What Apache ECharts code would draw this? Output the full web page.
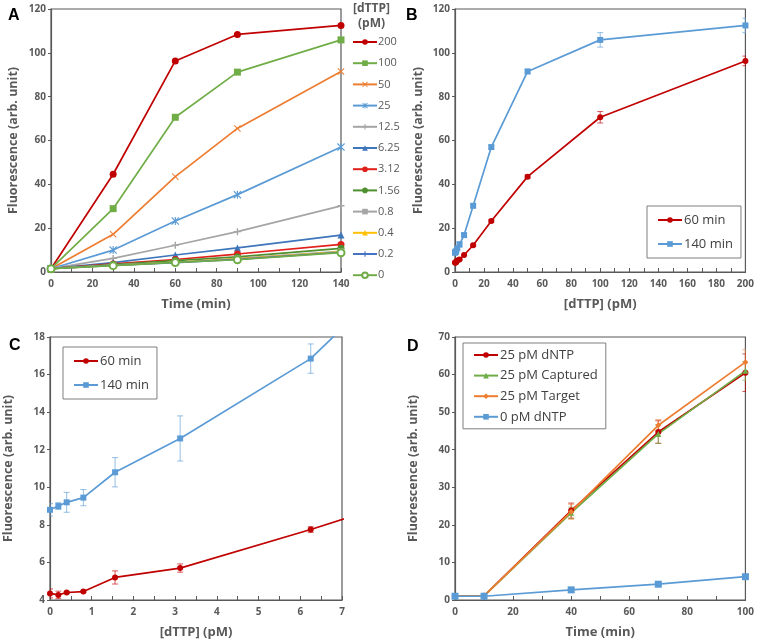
<!DOCTYPE html>
<html>
<head>
<meta charset="utf-8">
<script src="https://cdn.jsdelivr.net/npm/echarts@6/dist/echarts.min.js"></script>
<style>
  html, body { margin: 0; padding: 0; background: #fff; }
  #chart { width: 757px; height: 642px; }
</style>
</head>
<body>
<div id="chart"></div>
<script>
// panel A: fluorescence over time for each dTTP concentration
const timeA = [0, 30, 60, 90, 140]
const concA = ['200', '100', '50', '25', '12.5', '6.25', '3.12', '1.56', '0.8', '0.4', '0.2', '0']
const a200 = [1.5, 44.6, 96.3, 108.4, 112.5]
const a100 = [1.5, 28.9, 70.6, 91.2, 105.9]
const a50 = [1.5, 17.2, 43.5, 65.5, 91.5]
const a25 = [1.5, 10.0, 23.3, 35.3, 57.0]
const a12 = [1.5, 6.2, 12.2, 18.4, 30.2]
const a6 = [1.5, 4.3, 7.75, 11.0, 16.85]
const a3 = [1.5, 3.7, 5.7, 8.2, 12.6]
const a1 = [1.5, 3.4, 5.2, 6.9, 10.8]
const a08 = [1.5, 3.1, 4.45, 6.2, 9.45]
const a04 = [1.5, 3.0, 4.4, 6.0, 9.2]
const a02 = [1.5, 3.0, 4.27, 5.8, 9.0]
const a0 = [1.5, 2.9, 4.35, 5.6, 8.8]
const valuesA = [a200, a100, a50, a25, a12, a6, a3, a1, a08, a04, a02, a0]

// panels B and C: fluorescence vs dTTP concentration
const concB = [0, 0.2, 0.4, 0.8, 1.56, 3.12, 6.25, 12.5, 25, 50, 100, 200]
const min60 = [4.35, 4.27, 4.4, 4.45, 5.2, 5.7, 7.75, 12.2, 23.3, 43.5, 70.6, 96.3]
const err60 = [0.24, 0.2, 0.05, 0.05, 0.35, 0.22, 0.15, 0.5, 0.6, 0.8, 2.6, 2.2]
const min140 = [8.8, 9.0, 9.2, 9.45, 10.8, 12.6, 16.85, 30.2, 57.0, 91.5, 105.9, 112.5]
const err140 = [0.33, 0.18, 0.53, 0.43, 0.78, 1.2, 0.78, 0.8, 0.8, 1.0, 3.3, 3.3]

// panel D
const timeD = [0, 10, 40, 70, 100]
const dntp = [1, 1.1, 23.8, 44.7, 60.5]
const dntpErr = [0.2, 0.2, 2, 3, 5]
const captured = [1, 1.1, 23.2, 44.2, 61]
const capturedErr = [0.2, 0.2, 1.5, 2.5, 2.5]
const target = [1, 1.1, 23.5, 46.5, 63.3]
const targetErr = [0.2, 0.2, 2, 1.5, 3.3]
const zero = [1, 1, 2.7, 4.2, 6.2]

const FONT = 'Open Sans'
const GREY = '#595959'

const X_SHAPE = 'path://M1,0 L5,4 L9,0 L10,1 L6,5 L10,9 L9,10 L5,6 L1,10 L0,9 L4,5 L0,1 Z'
const STAR_SHAPE = 'path://M1,0 L5,4 L9,0 L10,1 L6,5 L10,9 L9,10 L5,6 L1,10 L0,9 L4,5 L0,1 Z M4.3,0 L5.7,0 L5.7,10 L4.3,10 Z'
const PLUS_SHAPE = 'path://M4,0 L6,0 L6,4 L10,4 L10,6 L6,6 L6,10 L4,10 L4,6 L0,6 L0,4 L4,4 Z'

const styleA = [
  ['#C00000', 'circle', 7],
  ['#70AD47', 'rect', 7],
  ['#ED7D31', X_SHAPE, 7],
  ['#5B9BD5', STAR_SHAPE, 8],
  ['#A5A5A5', PLUS_SHAPE, 7],
  ['#3F75BA', 'triangle', 7],
  ['#E0201B', 'circle', 7],
  ['#4E8F2E', 'circle', 7],
  ['#A5A5A5', 'rect', 6],
  ['#FFC000', 'triangle', 7],
  ['#4472C4', PLUS_SHAPE, 6],
  ['#70AD47', 'emptyCircle', 7]
]

function pairs(xs, ys) {
  return xs.map((x, i) => [x, ys[i]])
}

function lineSeries(name, color, symbol, size, axis, xs, ys) {
  return {
    name,
    type: 'line',
    xAxisIndex: axis,
    yAxisIndex: axis,
    data: pairs(xs, ys),
    symbol,
    symbolSize: size,
    showSymbol: true,
    clip: true,
    lineStyle: { color, width: 1.7 },
    itemStyle: { color },
    emphasis: { disabled: true },
    z: 3
  }
}

function errorSeries(color, axis, xs, ys, errs) {
  return {
    type: 'custom',
    xAxisIndex: axis,
    yAxisIndex: axis,
    clip: true,
    silent: true,
    z: 2,
    data: xs.map((x, i) => [x, ys[i] - errs[i], ys[i] + errs[i]]),
    encode: { x: 0, y: [1, 2] },
    renderItem(params, api) {
      const lo = api.coord([api.value(0), api.value(1)])
      const hi = api.coord([api.value(0), api.value(2)])
      const w = 3
      const style = { stroke: color, lineWidth: 1, opacity: 0.65 }
      return {
        type: 'group',
        children: [
          { type: 'line', shape: { x1: lo[0], y1: lo[1], x2: hi[0], y2: hi[1] }, style },
          { type: 'line', shape: { x1: lo[0] - w, y1: lo[1], x2: lo[0] + w, y2: lo[1] }, style },
          { type: 'line', shape: { x1: hi[0] - w, y1: hi[1], x2: hi[0] + w, y2: hi[1] }, style }
        ]
      }
    }
  }
}

function xAxis(grid, min, max, interval, name) {
  return {
    type: 'value',
    gridIndex: grid,
    min, max, interval,
    name,
    nameLocation: 'middle',
    nameGap: 26,
    nameTextStyle: { color: GREY, fontFamily: FONT, fontSize: 13, fontWeight: 'bold' },
    axisLine: { lineStyle: { color: GREY, width: 1.2 } },
    axisTick: { inside: true, length: 4, lineStyle: { color: GREY } },
    minorTick: { show: true, splitNumber: 2, length: 4, lineStyle: { color: GREY } },
    axisLabel: { color: GREY, fontFamily: FONT, fontSize: 10, fontWeight: 'bold', margin: 7 },
    splitLine: { show: false }
  }
}

function yAxis(grid, min, max, interval, gap) {
  return {
    type: 'value',
    gridIndex: grid,
    min, max, interval,
    name: 'Fluorescence (arb. unit)',
    nameLocation: 'middle',
    nameGap: gap,
    nameTextStyle: { color: GREY, fontFamily: FONT, fontSize: 12.5, fontWeight: 'bold' },
    axisLine: { lineStyle: { color: GREY, width: 1.2 } },
    axisTick: { length: 3, lineStyle: { color: GREY } },
    axisLabel: { color: GREY, fontFamily: FONT, fontSize: 10, fontWeight: 'bold', margin: 5 },
    splitLine: { show: false }
  }
}

const series = []
concA.forEach((c, i) => {
  const [color, sym, size] = styleA[i]
  series.push(lineSeries(c, color, sym, size, 0, timeA, valuesA[i]))
})

// B
series.push(lineSeries('60 min', '#C00000', 'circle', 6, 1, concB, min60))
series.push(lineSeries('140 min', '#5B9BD5', 'rect', 6, 1, concB, min140))
series.push(errorSeries('#C00000', 1, concB, min60, err60))
series.push(errorSeries('#5B9BD5', 1, concB, min140, err140))

// C
series.push(lineSeries('60 min', '#C00000', 'circle', 6, 2, concB, min60))
series.push(lineSeries('140 min', '#5B9BD5', 'rect', 6, 2, concB, min140))
series.push(errorSeries('#C00000', 2, concB, min60, err60))
series.push(errorSeries('#5B9BD5', 2, concB, min140, err140))

// D
series.push(lineSeries('25 pM dNTP', '#C00000', 'circle', 6, 3, timeD, dntp))
series.push(lineSeries('25 pM Captured', '#70AD47', 'triangle', 6, 3, timeD, captured))
series.push(lineSeries('25 pM Target', '#ED7D31', 'diamond', 6, 3, timeD, target))
series.push(lineSeries('0 pM dNTP', '#5B9BD5', 'rect', 7, 3, timeD, zero))
series.push(errorSeries('#C00000', 3, timeD, dntp, dntpErr))
series.push(errorSeries('#70AD47', 3, timeD, captured, capturedErr))
series.push(errorSeries('#ED7D31', 3, timeD, target, targetErr))

const boxLegend = {
  orient: 'vertical',
  itemWidth: 24,
  itemHeight: 7,
  itemGap: 8,
  padding: [6, 8, 6, 10],
  borderColor: '#7F7F7F',
  borderWidth: 1,
  selectedMode: false,
  textStyle: { color: '#404040', fontFamily: FONT, fontSize: 13, lineHeight: 16, padding: [0, 0, 0, -3] }
}

const option = {
  animation: false,
  grid: [
    { left: 51, top: 9, width: 290, height: 263, show: true, borderColor: GREY, borderWidth: 1.2 },
    { left: 455, top: 9, width: 292, height: 263, show: true, borderColor: GREY, borderWidth: 1.2 },
    { left: 50, top: 337, width: 292, height: 263, show: true, borderColor: GREY, borderWidth: 1.2 },
    { left: 455, top: 337, width: 291, height: 263, show: true, borderColor: GREY, borderWidth: 1.2 }
  ],
  xAxis: [
    xAxis(0, 0, 140, 20, 'Time (min)'),
    xAxis(1, 0, 200, 20, '[dTTP] (pM)'),
    xAxis(2, 0, 7, 1, '[dTTP] (pM)'),
    xAxis(3, 0, 100, 20, 'Time (min)')
  ],
  yAxis: [
    yAxis(0, 0, 120, 20, 31),
    yAxis(1, 0, 120, 20, 30),
    yAxis(2, 4, 18, 2, 35),
    yAxis(3, 0, 70, 10, 35)
  ],
  legend: [
    {
      data: concA,
      orient: 'vertical',
      left: 352,
      top: 35,
      itemWidth: 24,
      itemHeight: 7,
      itemGap: 7.2,
      padding: 0,
      selectedMode: false,
      textStyle: { color: GREY, fontFamily: FONT, fontSize: 11, lineHeight: 14, padding: [0, 0, 0, -4] }
    },
    Object.assign({}, boxLegend, { data: ['60 min', '140 min'], left: 647, top: 206 }),
    Object.assign({}, boxLegend, { data: ['60 min', '140 min'], left: 63, top: 347 }),
    Object.assign({}, boxLegend, {
      data: ['25 pM dNTP', '25 pM Captured', '25 pM Target', '0 pM dNTP'],
      left: 463, top: 343, itemGap: 4.6, padding: [4, 8, 4, 10]
    })
  ],
  graphic: [
    { type: 'text', left: 353, top: 3, style: { text: '[dTTP]', fontFamily: FONT, fontSize: 12, fontWeight: 'bold', fill: GREY } },
    { type: 'text', left: 358, top: 18, style: { text: '(pM)', fontFamily: FONT, fontSize: 12, fontWeight: 'bold', fill: GREY } },
    { type: 'text', left: 8, top: 8, style: { text: 'A', fontFamily: 'Liberation Sans', fontSize: 16, fontWeight: 'bold', fill: '#000' } },
    { type: 'text', left: 406, top: 8, style: { text: 'B', fontFamily: 'Liberation Sans', fontSize: 16, fontWeight: 'bold', fill: '#000' } },
    { type: 'text', left: 9, top: 338, style: { text: 'C', fontFamily: 'Liberation Sans', fontSize: 16, fontWeight: 'bold', fill: '#000' } },
    { type: 'text', left: 407, top: 339, style: { text: 'D', fontFamily: 'Liberation Sans', fontSize: 16, fontWeight: 'bold', fill: '#000' } }
  ],
  series
}

const chart = echarts.init(document.getElementById('chart'))
chart.setOption(option)
window.addEventListener('resize', () => chart.resize())
</script>
</body>
</html>
